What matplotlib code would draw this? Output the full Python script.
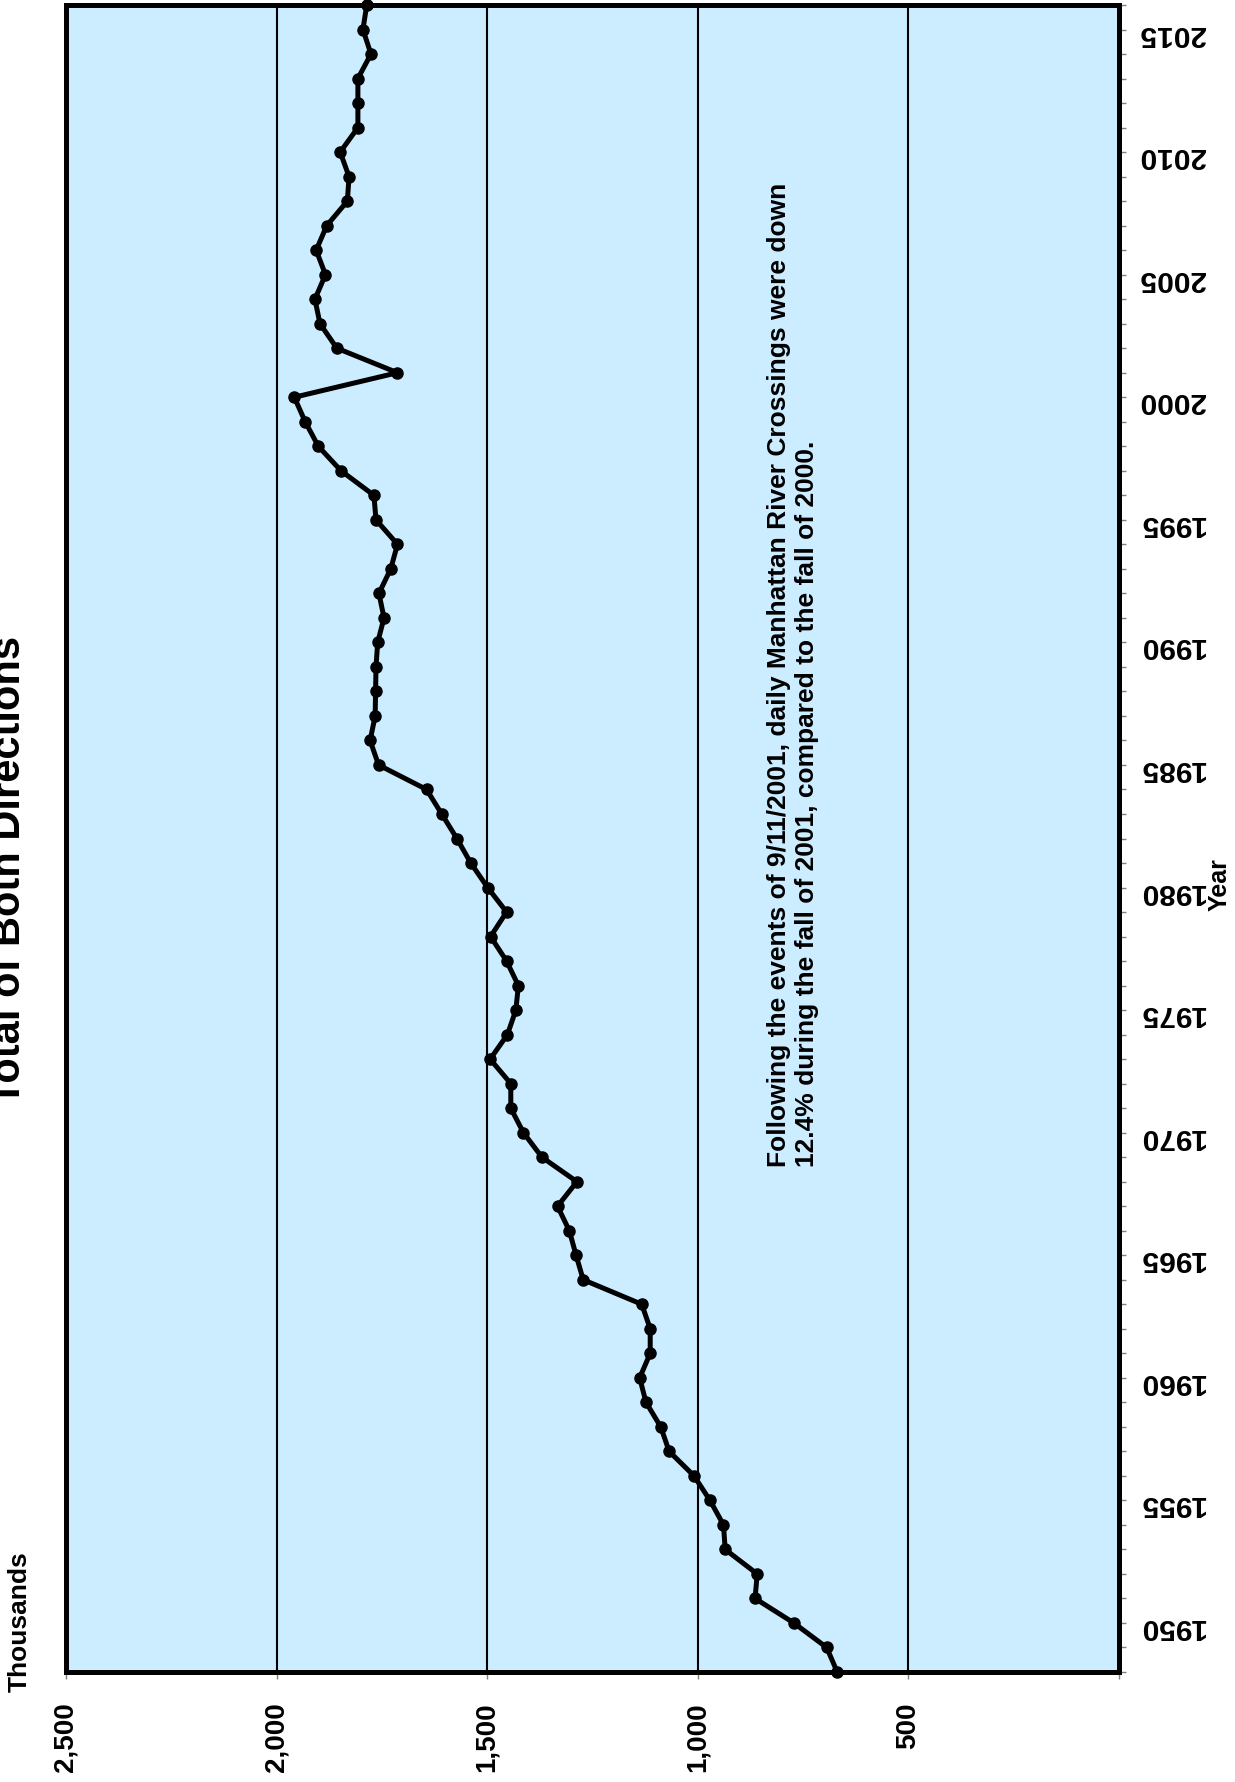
import matplotlib
matplotlib.use("Agg")
import matplotlib.pyplot as plt
from matplotlib.ticker import FixedLocator, FuncFormatter

plt.rcParams['font.family'] = ['Liberation Sans', 'DejaVu Sans']
plt.rcParams['font.weight'] = 'bold'

# daily crossings, thousands (total of both directions)
years = list(range(1948, 2017))
crossings = [669, 694, 772, 864, 859, 935, 939, 971, 1009, 1068, 1088, 1123,
             1138, 1113, 1113, 1133, 1272, 1289, 1305, 1333, 1287, 1370,
             1414, 1444, 1444, 1493, 1452, 1432, 1426, 1454, 1492, 1454,
             1499, 1539, 1572, 1608, 1644, 1758, 1778, 1766, 1765, 1764,
             1760, 1745, 1757, 1729, 1713, 1764, 1769, 1847, 1901, 1932,
             1958, 1713, 1857, 1897, 1909, 1884, 1906, 1881, 1832, 1828,
             1849, 1807, 1807, 1807, 1776, 1795, 1786]
value_ticks = [0, 500, 1000, 1500, 2000, 2500]
year_labels = [1950, 1955, 1960, 1965, 1970, 1975, 1980, 1985, 1990, 1995, 2000, 2005, 2010, 2015]

title = "Total of Both Directions"
note = ("Following the events of 9/11/2001, daily Manhattan River Crossings were down\n"
        "12.4% during the fall of 2001, compared to the fall of 2000.")

W, H = 1235, 1783
fig = plt.figure(figsize=(W / 100, H / 100), dpi=100)
ax = fig.add_axes([66 / W, 1 - 1673 / H, 1053 / W, 1667 / H])
ax.set_facecolor('#CCECFF')

# chart is turned on its side: years run upward, values run leftward
ax.plot(crossings, years, color='black', lw=3.6, marker='o', ms=8, clip_on=False, zorder=3)

ax.set_xlim(2500, 0)
ax.set_ylim(1948, 2016)

ax.xaxis.set_major_locator(FixedLocator(value_ticks))
ax.xaxis.set_major_formatter(FuncFormatter(lambda v, p: '' if v == 0 else f'{int(v):,}'))
for v in value_ticks[1:-1]:
    ax.axvline(v, color='black', lw=1.5, zorder=1)

ax.yaxis.tick_right()
ax.yaxis.set_major_locator(FixedLocator(year_labels))
ax.yaxis.set_minor_locator(FixedLocator(years))

ax.tick_params(axis='x', direction='out', length=5, width=1, color='#808080',
               pad=16, labelsize=20, labelrotation=90)
ax.tick_params(axis='y', which='both', direction='out', length=5, width=1,
               color='#808080', pad=9, labelsize=21.5)
for lab in ax.get_yticklabels():
    lab.set_rotation(180)

for s in ax.spines.values():
    s.set_linewidth(3.6)
    s.set_color('black')

fig.text(29 / W, 1 - 870 / H, title, rotation=90, ha='right', va='center',
         fontsize=30, fontweight='bold')
fig.text(20 / W, 1 - 1692 / H, "Thousands", rotation=90, ha='center', va='bottom',
         fontsize=19, fontweight='bold')
fig.text(1220 / W, 1 - 885 / H, "Year", rotation=90, ha='center', va='center',
         fontsize=18, fontweight='bold')
fig.text(793 / W, 1 - 1167 / H, note, rotation=90, ha='center', va='bottom',
         fontsize=19, fontweight='bold', multialignment='left')

fig.savefig("out.png", dpi=100)
